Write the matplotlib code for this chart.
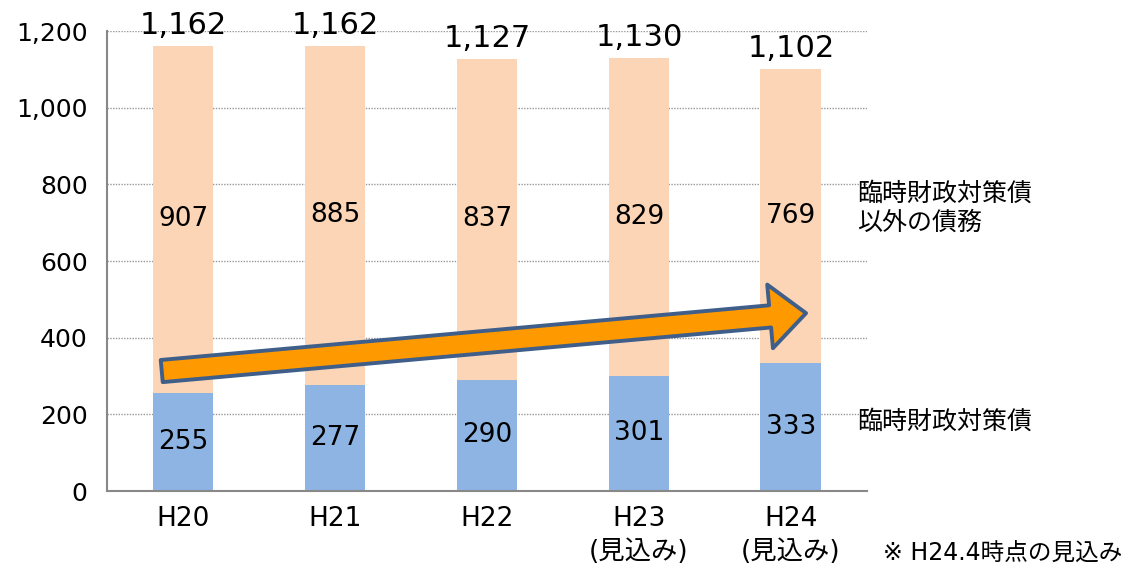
import matplotlib.pyplot as plt
from matplotlib.patches import FancyArrowPatch, ArrowStyle
import numpy as np

plt.rcParams['font.family'] = ['DejaVu Sans', 'Noto Sans CJK JP']

# 年度と債務残高（億円）
years = ['H20', 'H21', 'H22', 'H23\n(見込み)', 'H24\n(見込み)']
rinzai = [255, 277, 290, 301, 333]          # 臨時財政対策債
sonota = [907, 885, 837, 829, 769]          # それ以外の債務
totals = [1162, 1162, 1127, 1130, 1102]

col_blue = '#8EB4E3'
col_peach = '#FBD5B5'

fig = plt.figure(figsize=(11.29, 5.69), dpi=100)
ax = fig.add_axes([0.0948, 0.137, 0.673, 0.8085])

x = np.arange(len(years))
w = 0.4
ax.bar(x, rinzai, w, color=col_blue, zorder=2)
ax.bar(x, sonota, w, bottom=rinzai, color=col_peach, zorder=2)

# 棒の中の数値
for i in range(len(x)):
    ax.text(x[i], rinzai[i] / 2, str(rinzai[i]), ha='center', va='center',
            fontsize=19, zorder=4)
    ax.text(x[i], rinzai[i] + sonota[i] / 2, str(sonota[i]), ha='center',
            va='center', fontsize=19, zorder=4)
    ax.annotate(f'{totals[i]:,}', (x[i], totals[i]), xytext=(0, 4),
                textcoords='offset points', ha='center', va='bottom',
                fontsize=22, zorder=4, annotation_clip=False)

ax.set_xlim(-0.5, 4.5)
ax.set_ylim(0, 1200)
ax.set_yticks(range(0, 1201, 200))
ax.set_yticklabels([f'{v:,}' for v in range(0, 1201, 200)], fontsize=18)
ax.set_xticks(x)
ax.set_xticklabels(years, fontsize=19, linespacing=1.35)
ax.tick_params(axis='both', length=0)
ax.tick_params(axis='y', pad=14)
ax.tick_params(axis='x', pad=11)

ax.yaxis.grid(True, linestyle=(0, (1, 1)), color='#999999', linewidth=1, zorder=0)
for s in ['top', 'right']:
    ax.spines[s].set_visible(False)
for s in ['left', 'bottom']:
    ax.spines[s].set_color('#888888')
    ax.spines[s].set_linewidth(1.5)
    ax.spines[s].set_zorder(3)

# 増加傾向の矢印
style = ArrowStyle.Simple(head_length=26, head_width=46, tail_width=16)
arrow = FancyArrowPatch((-0.14, 313), (4.10, 464), arrowstyle=style,
                        mutation_scale=1, facecolor='#FF9900',
                        edgecolor='#3F5F8A', linewidth=2.8, zorder=5,
                        shrinkA=0, shrinkB=0)
ax.add_patch(arrow)

# 系列名
fig.text(0.759, 0.634, '臨時財政対策債\n以外の債務', fontsize=18,
         va='center', ha='left', linespacing=1.3)
fig.text(0.759, 0.258, '臨時財政対策債', fontsize=18, va='center', ha='left')
fig.text(0.782, 0.028, '※ H24.4時点の見込み', fontsize=17, va='center', ha='left')

fig.savefig('out.png', dpi=100)
